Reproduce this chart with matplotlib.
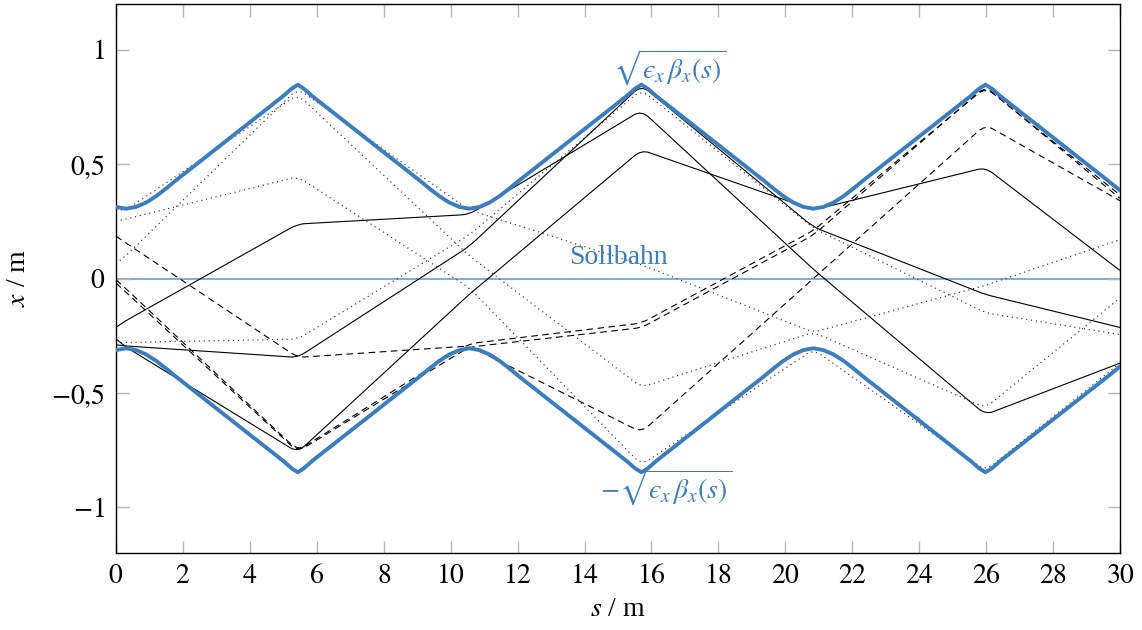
import matplotlib
matplotlib.use("Agg")
import matplotlib.pyplot as plt
from matplotlib.path import Path
from matplotlib.patches import PathPatch
from matplotlib.ticker import FixedLocator, FuncFormatter

plt.rcParams['font.family'] = ['Liberation Serif', 'DejaVu Serif']
plt.rcParams['mathtext.fontset'] = 'stix'

# ---------------- data ----------------
# beam envelope sqrt(eps*beta) (upper branch), s in m, x in m
env_s = [0.00, 0.30, 0.60, 0.90, 1.20, 1.50, 1.80, 2.80, 3.80, 4.60, 5.00, 5.25,
         5.43, 5.61, 5.86, 6.26, 7.06, 8.06, 9.06, 9.36, 9.66, 9.96, 10.26,
         10.56, 10.86, 11.16, 11.46, 11.76, 12.06, 13.06, 14.06, 14.86, 15.26,
         15.51, 15.70, 15.89, 16.14, 16.54, 17.34, 18.34, 19.34, 19.64, 19.94,
         20.24, 20.54, 20.84, 21.14, 21.44, 21.74, 22.04, 22.34, 23.34, 24.34,
         25.14, 25.54, 25.79, 25.98, 26.17, 26.42, 26.82, 27.62, 28.62, 29.62, 30.00]
env_x = [0.313, 0.305, 0.313, 0.332, 0.360, 0.394, 0.430, 0.545, 0.660, 0.752, 0.798, 0.830,
         0.847, 0.830, 0.798, 0.752, 0.660, 0.545, 0.430, 0.394, 0.360, 0.332, 0.313,
         0.305, 0.313, 0.332, 0.360, 0.394, 0.430, 0.545, 0.660, 0.752, 0.798,
         0.830, 0.847, 0.830, 0.798, 0.752, 0.660, 0.545, 0.430, 0.394, 0.360,
         0.332, 0.313, 0.305, 0.313, 0.332, 0.360, 0.394, 0.430, 0.545, 0.660,
         0.752, 0.798, 0.830, 0.847, 0.830, 0.798, 0.752, 0.660, 0.545, 0.430, 0.385]
env_low = [-v for v in env_x]

# positions of the lens kinks (and the ends of the plot)
kink_s = [0.0, 0.3, 5.43, 10.55, 15.70, 20.84, 25.98, 30.0]

# particle trajectories, values at kink_s
solid_1 = [-0.213, -0.184, 0.238, 0.280, 0.735, 0.040, -0.595, -0.370]
solid_2 = [-0.290, -0.295, -0.345, 0.140, 0.845, 0.225, -0.070, -0.214]
solid_3 = [-0.264, -0.300, -0.760, -0.070, 0.562, 0.300, 0.485, 0.035]

dashed_1 = [0.185, 0.155, -0.345, -0.295, -0.672, 0.000, 0.672, 0.340]
dashed_2 = [-0.005, -0.045, -0.752, -0.285, -0.195, 0.210, 0.835, 0.365]
dashed_3 = [-0.020, -0.060, -0.757, -0.300, -0.215, 0.190, 0.840, 0.350]

dotted_1 = [0.300, 0.300, 0.805, 0.100, -0.475, -0.235, -0.565, -0.085]
dotted_2 = [0.065, 0.100, 0.830, 0.300, 0.060, -0.235, -0.030, 0.170]
dotted_3 = [0.250, 0.260, 0.445, -0.040, -0.815, -0.310, -0.840, -0.370]
dotted_4 = [-0.280, -0.280, -0.265, 0.190, 0.825, 0.220, -0.150, -0.245]

solid_lines = [solid_1, solid_2, solid_3]
dashed_lines = [dashed_1, dashed_2, dashed_3]
dotted_lines = [dotted_1, dotted_2, dotted_3, dotted_4]

x_ticks = [0, 2, 4, 6, 8, 10, 12, 14, 16, 18, 20, 22, 24, 26, 28, 30]
y_ticks = [-1, -0.5, 0, 0.5, 1]

# ---------------- drawing ----------------
BLUE = '#3b7dbd'
LIGHTBLUE = '#7fb0dc'
ROUND = 0.22   # half width (in m) of the rounded lens corners


def rounded_path(xs, ys, w=ROUND):
    """Polyline through the given points with softly rounded corners."""
    verts = [(xs[0], ys[0])]
    codes = [Path.MOVETO]
    for i in range(1, len(xs) - 1):
        x0, y0 = xs[i - 1], ys[i - 1]
        x1, y1 = xs[i], ys[i]
        x2, y2 = xs[i + 1], ys[i + 1]
        wa = min(w, 0.45 * (x1 - x0))
        wb = min(w, 0.45 * (x2 - x1))
        pa = (x1 - wa, y1 - (y1 - y0) * wa / (x1 - x0))
        pb = (x1 + wb, y1 + (y2 - y1) * wb / (x2 - x1))
        verts += [pa, (x1, y1), pb]
        codes += [Path.LINETO, Path.CURVE3, Path.CURVE3]
    verts.append((xs[-1], ys[-1]))
    codes.append(Path.LINETO)
    return Path(verts, codes)


fig = plt.figure(figsize=(11.42, 6.30), dpi=100)
ax = fig.add_axes([116/1142, 1-553/630, (1120-116)/1142, (553-4)/630])

ax.axhline(0, color=LIGHTBLUE, lw=1.5, zorder=1)

for ln in dotted_lines:
    ax.add_patch(PathPatch(rounded_path(kink_s, ln), fill=False, edgecolor='#333333',
                           lw=0.9, ls=(0, (0.9, 3.0)), zorder=2))
for ln in dashed_lines:
    ax.add_patch(PathPatch(rounded_path(kink_s, ln), fill=False, edgecolor='black',
                           lw=0.8, ls=(0, (6, 4)), zorder=2))
for ln in solid_lines:
    ax.add_patch(PathPatch(rounded_path(kink_s, ln), fill=False, edgecolor='black',
                           lw=0.8, zorder=2))

ax.plot(env_s, env_x, color=BLUE, lw=2.8, zorder=3, solid_capstyle='round')
ax.plot(env_s, env_low, color=BLUE, lw=2.8, zorder=3, solid_capstyle='round')

eps = '\u03f5'
ax.text(16.55, 0.92, r'$\sqrt{%s_x\,\beta_x(s)}$' % eps, color=BLUE, fontsize=20,
        ha='center', va='center')
ax.text(16.45, -0.915, r'$-\sqrt{%s_x\,\beta_x(s)}$' % eps, color=BLUE, fontsize=20,
        ha='center', va='center')
ax.text(15.0, 0.09, 'Sollbahn', color=BLUE, fontsize=20, ha='center', va='center')

ax.set_xlim(0, 30)
ax.set_ylim(-1.2, 1.2)
ax.xaxis.set_major_locator(FixedLocator(x_ticks))
ax.yaxis.set_major_locator(FixedLocator(y_ticks))


def fmt(v, pos):
    s = ('%g' % v).replace('.', '{,}')
    return '$' + s + '$'


ax.xaxis.set_major_formatter(FuncFormatter(fmt))
ax.yaxis.set_major_formatter(FuncFormatter(fmt))
ax.tick_params(direction='in', length=9, width=1.0, color='#b5b5b5',
               top=True, right=True, labelsize=20, pad=8)
for sp in ax.spines.values():
    sp.set_linewidth(1.0)
    sp.set_color('black')

ax.set_xlabel(r'$s$ / m', fontsize=20, labelpad=6)
ax.set_ylabel(r'$x$ / m', fontsize=20, labelpad=14)

fig.savefig('out.png', dpi=100)
